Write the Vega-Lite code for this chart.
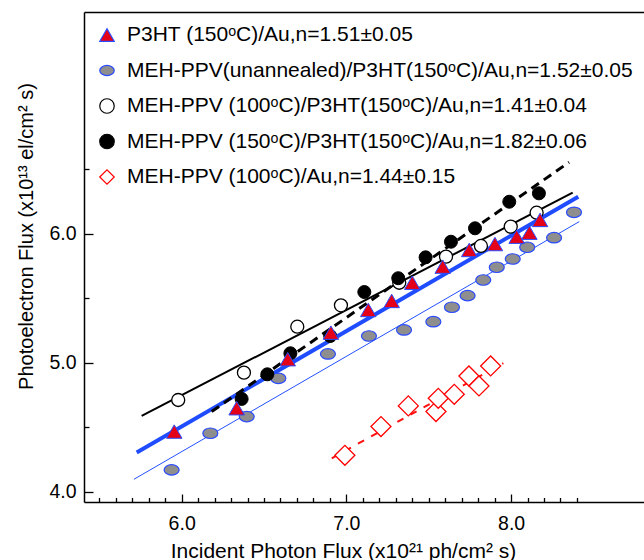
{
  "$schema": "https://vega.github.io/schema/vega-lite/v6.json",
  "width": 560,
  "height": 490,
  "autosize": {"type": "none"},
  "padding": {"left": 84, "top": 12, "right": 0, "bottom": 58},
  "background": "white",
  "config": {
    "view": {"stroke": null},
    "axis": {"grid": false, "domainColor": "#000000", "domainWidth": 1.5, "tickColor": "#000000", "tickWidth": 1.3, "labelColor": "#000000", "titleColor": "#000000", "labelFont": "Liberation Sans", "titleFont": "Liberation Sans", "labelFontSize": 19.5, "titleFontSize": 20, "titleFontWeight": "normal", "labelOverlap": false, "labelFlush": false, "labelBound": false},
    "legend": {"labelFont": "Liberation Sans", "labelFontSize": 21, "labelColor": "#000000", "labelLimit": 700, "labelOffset": 9.5, "rowPadding": 13.5, "symbolSize": 210, "symbolStrokeWidth": 1.2, "symbolOpacity": 1, "padding": 0}
  },
  "datasets": {
    "fits": [
      {"fit": "B", "x": 5.710, "y": 4.098}, {"fit": "B", "x": 8.414, "y": 6.096},
      {"fit": "A", "x": 5.727, "y": 4.305}, {"fit": "A", "x": 8.408, "y": 6.289},
      {"fit": "C", "x": 5.757, "y": 4.589}, {"fit": "C", "x": 8.374, "y": 6.320},
      {"fit": "D", "x": 6.182, "y": 4.623}, {"fit": "D", "x": 8.352, "y": 6.556},
      {"fit": "E", "x": 6.911, "y": 4.261}, {"fit": "E", "x": 7.953, "y": 4.998}
    ],
    "pts": [
      {"s": "P3HT (150ᵒC)/Au,n=1.51±0.05", "x": 5.955, "y": 4.468},
      {"s": "P3HT (150ᵒC)/Au,n=1.51±0.05", "x": 6.334, "y": 4.649},
      {"s": "P3HT (150ᵒC)/Au,n=1.51±0.05", "x": 6.644, "y": 5.029},
      {"s": "P3HT (150ᵒC)/Au,n=1.51±0.05", "x": 6.906, "y": 5.235},
      {"s": "P3HT (150ᵒC)/Au,n=1.51±0.05", "x": 7.133, "y": 5.411},
      {"s": "P3HT (150ᵒC)/Au,n=1.51±0.05", "x": 7.275, "y": 5.481},
      {"s": "P3HT (150ᵒC)/Au,n=1.51±0.05", "x": 7.400, "y": 5.622},
      {"s": "P3HT (150ᵒC)/Au,n=1.51±0.05", "x": 7.585, "y": 5.747},
      {"s": "P3HT (150ᵒC)/Au,n=1.51±0.05", "x": 7.746, "y": 5.876},
      {"s": "P3HT (150ᵒC)/Au,n=1.51±0.05", "x": 7.902, "y": 5.922},
      {"s": "P3HT (150ᵒC)/Au,n=1.51±0.05", "x": 8.034, "y": 5.979},
      {"s": "P3HT (150ᵒC)/Au,n=1.51±0.05", "x": 8.111, "y": 6.010},
      {"s": "P3HT (150ᵒC)/Au,n=1.51±0.05", "x": 8.176, "y": 6.109},
      {"s": "MEH-PPV(unannealed)/P3HT(150ᵒC)/Au,n=1.52±0.05", "x": 5.939, "y": 4.171},
      {"s": "MEH-PPV(unannealed)/P3HT(150ᵒC)/Au,n=1.52±0.05", "x": 6.174, "y": 4.455},
      {"s": "MEH-PPV(unannealed)/P3HT(150ᵒC)/Au,n=1.52±0.05", "x": 6.395, "y": 4.584},
      {"s": "MEH-PPV(unannealed)/P3HT(150ᵒC)/Au,n=1.52±0.05", "x": 6.587, "y": 4.881},
      {"s": "MEH-PPV(unannealed)/P3HT(150ᵒC)/Au,n=1.52±0.05", "x": 6.888, "y": 5.070},
      {"s": "MEH-PPV(unannealed)/P3HT(150ᵒC)/Au,n=1.52±0.05", "x": 7.137, "y": 5.209},
      {"s": "MEH-PPV(unannealed)/P3HT(150ᵒC)/Au,n=1.52±0.05", "x": 7.350, "y": 5.256},
      {"s": "MEH-PPV(unannealed)/P3HT(150ᵒC)/Au,n=1.52±0.05", "x": 7.528, "y": 5.320},
      {"s": "MEH-PPV(unannealed)/P3HT(150ᵒC)/Au,n=1.52±0.05", "x": 7.641, "y": 5.432},
      {"s": "MEH-PPV(unannealed)/P3HT(150ᵒC)/Au,n=1.52±0.05", "x": 7.736, "y": 5.522},
      {"s": "MEH-PPV(unannealed)/P3HT(150ᵒC)/Au,n=1.52±0.05", "x": 7.831, "y": 5.643},
      {"s": "MEH-PPV(unannealed)/P3HT(150ᵒC)/Au,n=1.52±0.05", "x": 7.913, "y": 5.742},
      {"s": "MEH-PPV(unannealed)/P3HT(150ᵒC)/Au,n=1.52±0.05", "x": 8.010, "y": 5.806},
      {"s": "MEH-PPV(unannealed)/P3HT(150ᵒC)/Au,n=1.52±0.05", "x": 8.098, "y": 5.897},
      {"s": "MEH-PPV(unannealed)/P3HT(150ᵒC)/Au,n=1.52±0.05", "x": 8.261, "y": 5.971},
      {"s": "MEH-PPV(unannealed)/P3HT(150ᵒC)/Au,n=1.52±0.05", "x": 8.382, "y": 6.168},
      {"s": "MEH-PPV (100ᵒC)/P3HT(150ᵒC)/Au,n=1.41±0.04", "x": 5.979, "y": 4.713},
      {"s": "MEH-PPV (100ᵒC)/P3HT(150ᵒC)/Au,n=1.41±0.04", "x": 6.378, "y": 4.925},
      {"s": "MEH-PPV (100ᵒC)/P3HT(150ᵒC)/Au,n=1.41±0.04", "x": 6.702, "y": 5.281},
      {"s": "MEH-PPV (100ᵒC)/P3HT(150ᵒC)/Au,n=1.41±0.04", "x": 6.967, "y": 5.447},
      {"s": "MEH-PPV (100ᵒC)/P3HT(150ᵒC)/Au,n=1.41±0.04", "x": 7.321, "y": 5.622},
      {"s": "MEH-PPV (100ᵒC)/P3HT(150ᵒC)/Au,n=1.41±0.04", "x": 7.605, "y": 5.824},
      {"s": "MEH-PPV (100ᵒC)/P3HT(150ᵒC)/Au,n=1.41±0.04", "x": 7.817, "y": 5.907},
      {"s": "MEH-PPV (100ᵒC)/P3HT(150ᵒC)/Au,n=1.41±0.04", "x": 7.998, "y": 6.057},
      {"s": "MEH-PPV (100ᵒC)/P3HT(150ᵒC)/Au,n=1.41±0.04", "x": 8.155, "y": 6.165},
      {"s": "MEH-PPV (150ᵒC)/P3HT(150ᵒC)/Au,n=1.82±0.06", "x": 6.364, "y": 4.721},
      {"s": "MEH-PPV (150ᵒC)/P3HT(150ᵒC)/Au,n=1.82±0.06", "x": 6.520, "y": 4.912},
      {"s": "MEH-PPV (150ᵒC)/P3HT(150ᵒC)/Au,n=1.82±0.06", "x": 6.660, "y": 5.075},
      {"s": "MEH-PPV (150ᵒC)/P3HT(150ᵒC)/Au,n=1.82±0.06", "x": 6.902, "y": 5.209},
      {"s": "MEH-PPV (150ᵒC)/P3HT(150ᵒC)/Au,n=1.82±0.06", "x": 7.109, "y": 5.550},
      {"s": "MEH-PPV (150ᵒC)/P3HT(150ᵒC)/Au,n=1.82±0.06", "x": 7.315, "y": 5.657},
      {"s": "MEH-PPV (150ᵒC)/P3HT(150ᵒC)/Au,n=1.82±0.06", "x": 7.481, "y": 5.819},
      {"s": "MEH-PPV (150ᵒC)/P3HT(150ᵒC)/Au,n=1.82±0.06", "x": 7.635, "y": 5.940},
      {"s": "MEH-PPV (150ᵒC)/P3HT(150ᵒC)/Au,n=1.82±0.06", "x": 7.781, "y": 6.044},
      {"s": "MEH-PPV (150ᵒC)/P3HT(150ᵒC)/Au,n=1.82±0.06", "x": 7.989, "y": 6.250},
      {"s": "MEH-PPV (150ᵒC)/P3HT(150ᵒC)/Au,n=1.82±0.06", "x": 8.169, "y": 6.315},
      {"s": "MEH-PPV (100ᵒC)/Au,n=1.44±0.15", "x": 6.991, "y": 4.284},
      {"s": "MEH-PPV (100ᵒC)/Au,n=1.44±0.15", "x": 7.210, "y": 4.507},
      {"s": "MEH-PPV (100ᵒC)/Au,n=1.44±0.15", "x": 7.376, "y": 4.667},
      {"s": "MEH-PPV (100ᵒC)/Au,n=1.44±0.15", "x": 7.544, "y": 4.623},
      {"s": "MEH-PPV (100ᵒC)/Au,n=1.44±0.15", "x": 7.558, "y": 4.726},
      {"s": "MEH-PPV (100ᵒC)/Au,n=1.44±0.15", "x": 7.655, "y": 4.757},
      {"s": "MEH-PPV (100ᵒC)/Au,n=1.44±0.15", "x": 7.744, "y": 4.899},
      {"s": "MEH-PPV (100ᵒC)/Au,n=1.44±0.15", "x": 7.805, "y": 4.822},
      {"s": "MEH-PPV (100ᵒC)/Au,n=1.44±0.15", "x": 7.876, "y": 4.977}
    ]
  },
  "resolve": {"axis": {"x": "independent"}},
  "encoding": {
    "x": {"field": "x", "type": "quantitative", "scale": {"domain": [5.407, 8.807], "nice": false, "zero": false}, "axis": null},
    "y": {"field": "y", "type": "quantitative", "scale": {"domain": [3.922, 7.721], "nice": false, "zero": false},
      "axis": {"orient": "left", "values": [4, 4.5, 5, 5.5, 6, 6.5],
        "tickSize": {"condition": {"test": "datum.value % 1 === 0", "value": -9}, "value": -5},
        "labelExpr": "datum.value % 1 === 0 ? format(datum.value, '.1f') : ''",
        "labelPadding": 17,
        "title": "Photoelectron Flux (x10¹³ el/cm² s)", "titleX": -52, "titleY": 224, "titleAlign": "center", "titleBaseline": "alphabetic", "titleAngle": 270}}
  },
  "layer": [
    {
      "data": {"name": "fits"},
      "transform": [{"filter": "datum.fit === 'B'"}],
      "mark": {"type": "line", "color": "#2450ff", "strokeWidth": 1},
      "encoding": {
        "x": {"field": "x", "type": "quantitative", "scale": {"domain": [5.407, 8.807], "nice": false, "zero": false},
          "axis": {"orient": "bottom", "values": [5.5, 5.6, 5.7, 5.8, 5.9, 6, 6.1, 6.2, 6.3, 6.4, 6.5, 6.6, 6.7, 6.8, 6.9, 7, 7.1, 7.2, 7.3, 7.4, 7.5, 7.6, 7.7, 7.8, 7.9, 8, 8.1, 8.2, 8.3, 8.4],
            "tickSize": {"condition": {"test": "datum.value % 1 === 0", "value": -8}, "value": -4.5},
            "labelExpr": "datum.value % 1 === 0 ? format(datum.value, '.1f') : ''",
            "labelPadding": 20,
            "title": "Incident Photon Flux (x10²¹ ph/cm² s)", "titleFontSize": 21, "titleX": 259, "titleY": 55, "titleAlign": "center", "titleBaseline": "alphabetic"}}
      }
    },
    {
      "data": {"name": "fits"},
      "transform": [{"filter": "datum.fit === 'A'"}],
      "mark": {"type": "line", "color": "#1f4cff", "strokeWidth": 4},
      "encoding": {
        "x": {"field": "x", "type": "quantitative", "scale": {"domain": [5.407, 8.807], "nice": false, "zero": false},
          "axis": {"orient": "top", "labels": false, "ticks": false, "title": null, "domain": true}}
      }
    },
    {
      "data": {"name": "fits"},
      "transform": [{"filter": "datum.fit === 'C'"}],
      "mark": {"type": "line", "color": "#000000", "strokeWidth": 2},
      "encoding": {}
    },
    {
      "data": {"name": "fits"},
      "transform": [{"filter": "datum.fit === 'D'"}],
      "mark": {"type": "line", "color": "#000000", "strokeWidth": 3, "strokeDash": [9, 6]},
      "encoding": {}
    },
    {
      "data": {"name": "fits"},
      "transform": [{"filter": "datum.fit === 'E'"}],
      "mark": {"type": "line", "color": "#ff1010", "strokeWidth": 2, "strokeDash": [7, 8]},
      "encoding": {}
    },
    {
      "data": {"name": "pts"},
      "transform": [{"filter": "indexof(datum.s, 'unannealed') >= 0"}],
      "mark": {"type": "point", "opacity": 1, "size": 225, "strokeWidth": 1.2},
      "encoding": {
        "shape": {"field": "s", "type": "nominal", "scale": {"domain": ["P3HT (150ᵒC)/Au,n=1.51±0.05", "MEH-PPV(unannealed)/P3HT(150ᵒC)/Au,n=1.52±0.05", "MEH-PPV (100ᵒC)/P3HT(150ᵒC)/Au,n=1.41±0.04", "MEH-PPV (150ᵒC)/P3HT(150ᵒC)/Au,n=1.82±0.06", "MEH-PPV (100ᵒC)/Au,n=1.44±0.15"], "range": ["triangle-up", "M-1,0A1,0.7,0,1,1,1,0A1,0.7,0,1,1,-1,0Z", "circle", "circle", "diamond"]}, "legend": {"title": null, "orient": "none", "legendX": 12.5, "legendY": 12.5}},
        "fill": {"field": "s", "type": "nominal", "scale": {"domain": ["P3HT (150ᵒC)/Au,n=1.51±0.05", "MEH-PPV(unannealed)/P3HT(150ᵒC)/Au,n=1.52±0.05", "MEH-PPV (100ᵒC)/P3HT(150ᵒC)/Au,n=1.41±0.04", "MEH-PPV (150ᵒC)/P3HT(150ᵒC)/Au,n=1.82±0.06", "MEH-PPV (100ᵒC)/Au,n=1.44±0.15"], "range": ["#e50019", "#8e8e8e", "#ffffff", "#000000", "#ffffff"]}, "legend": {"title": null, "orient": "none", "legendX": 12.5, "legendY": 12.5}},
        "stroke": {"field": "s", "type": "nominal", "scale": {"domain": ["P3HT (150ᵒC)/Au,n=1.51±0.05", "MEH-PPV(unannealed)/P3HT(150ᵒC)/Au,n=1.52±0.05", "MEH-PPV (100ᵒC)/P3HT(150ᵒC)/Au,n=1.41±0.04", "MEH-PPV (150ᵒC)/P3HT(150ᵒC)/Au,n=1.82±0.06", "MEH-PPV (100ᵒC)/Au,n=1.44±0.15"], "range": ["#2a4bff", "#2a4bff", "#000000", "#000000", "#ff0000"]}, "legend": {"title": null, "orient": "none", "legendX": 12.5, "legendY": 12.5}}
      }
    },
    {
      "data": {"name": "pts"},
      "transform": [{"filter": "indexof(datum.s, '1.41') >= 0"}],
      "mark": {"type": "point", "opacity": 1, "size": 169, "strokeWidth": 1.3},
      "encoding": {
        "shape": {"field": "s", "type": "nominal"},
        "fill": {"field": "s", "type": "nominal"},
        "stroke": {"field": "s", "type": "nominal"}
      }
    },
    {
      "data": {"name": "pts"},
      "transform": [{"filter": "indexof(datum.s, '1.82') >= 0"}],
      "mark": {"type": "point", "opacity": 1, "size": 169, "strokeWidth": 1},
      "encoding": {
        "shape": {"field": "s", "type": "nominal"},
        "fill": {"field": "s", "type": "nominal"},
        "stroke": {"field": "s", "type": "nominal"}
      }
    },
    {
      "data": {"name": "pts"},
      "transform": [{"filter": "indexof(datum.s, '1.51') >= 0"}],
      "mark": {"type": "point", "opacity": 1, "size": 240, "strokeWidth": 1},
      "encoding": {
        "shape": {"field": "s", "type": "nominal"},
        "fill": {"field": "s", "type": "nominal"},
        "stroke": {"field": "s", "type": "nominal"}
      }
    },
    {
      "data": {"name": "pts"},
      "transform": [{"filter": "indexof(datum.s, '1.44') >= 0"}],
      "mark": {"type": "point", "opacity": 1, "size": 400, "strokeWidth": 1.3},
      "encoding": {
        "shape": {"field": "s", "type": "nominal"},
        "fill": {"field": "s", "type": "nominal"},
        "stroke": {"field": "s", "type": "nominal"}
      }
    }
  ]
}
